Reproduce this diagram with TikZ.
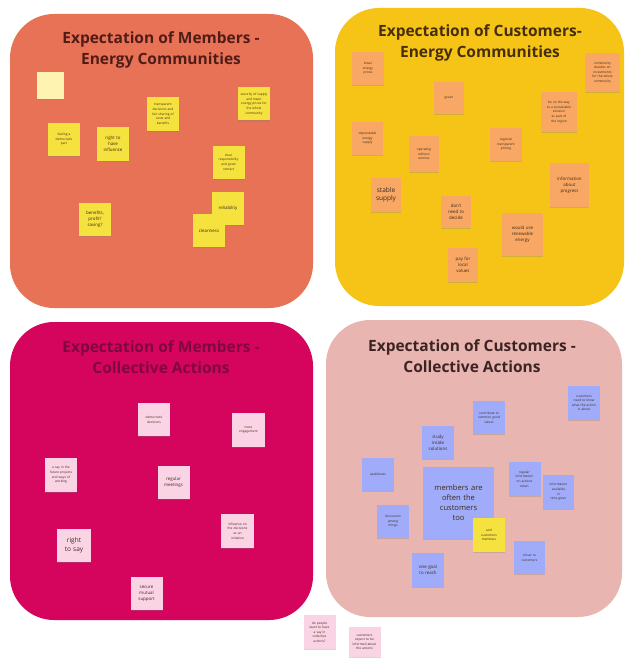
\documentclass[tikz,border=0pt]{standalone}
\usepackage{fontspec}
\setmainfont{Open Sans}
\usetikzlibrary{shadows}

% board colours
\definecolor{boardA}{RGB}{232,114,86}
\definecolor{boardB}{RGB}{246,196,22}
\definecolor{boardC}{RGB}{213,4,92}
\definecolor{boardD}{RGB}{233,181,176}
\definecolor{titleA}{RGB}{80,28,24}
\definecolor{titleB}{RGB}{70,46,10}
\definecolor{titleC}{RGB}{128,6,64}
\definecolor{titleD}{RGB}{60,36,36}
% sticky note colours
\definecolor{noteYellow}{RGB}{246,226,62}
\definecolor{notePale}{RGB}{255,243,178}
\definecolor{noteOrange}{RGB}{248,168,100}
\definecolor{notePink}{RGB}{250,212,228}
\definecolor{noteBlue}{RGB}{160,172,250}
\definecolor{noteText}{RGB}{60,42,30}

\tikzset{
  board/.style={rounded corners=44pt, draw=none},
  boardtitle/.style={font=\fontsize{15.5}{21}\selectfont\bfseries, align=center},
  sticky/.style={minimum width=32pt, minimum height=33pt, inner sep=1pt,
    align=center, text width=28pt, text=noteText,
    font=\fontsize{3.2}{4.6}\selectfont,
    drop shadow={opacity=0.3, shadow xshift=0pt, shadow yshift=-1.2pt}},
  yellownote/.style={sticky, fill=noteYellow},
  orangenote/.style={sticky, fill=noteOrange},
  pinknote/.style={sticky, fill=notePink},
  bluenote/.style={sticky, fill=noteBlue},
  midtext/.style={font=\fontsize{4.4}{6}\selectfont},
  bigtext/.style={font=\fontsize{6.5}{8.5}\selectfont}
}

\begin{document}
\begin{tikzpicture}[x=1pt, y=-1pt]
\path[use as bounding box, fill=white] (0,0) rectangle (626,658);

% ---- boards ----
\fill[board, boardA] (10,14) rectangle (313,308);
\fill[board, boardB] (335,8) rectangle (624,306);
\fill[board, boardC] (10,322) rectangle (313,620);
\fill[board, boardD] (326,320) rectangle (622,617);

\node[boardtitle, text=titleA] (tA) at (161,50) {Expectation of Members -\\Energy Communities};
\node[boardtitle, text=titleB] (tB) at (480,43) {Expectation of Customers-\\Energy Communities};
\node[boardtitle, text=titleC] (tC) at (161,357) {Expectation of Members -\\Collective Actions};
\node[boardtitle, text=titleD] (tD) at (472,356) {Expectation of Customers -\\Collective Actions};

% ---- members, energy communities ----
\node[sticky, fill=notePale, minimum width=27pt, minimum height=27pt, text width=23pt] (a0) at (50.5,85.5) {};
\node[yellownote] (a1) at (64,139.5) {feeling a\\democratic\\part};
\node[yellownote, midtext] (a2) at (113,144) {right to\\have\\influence};
\node[yellownote] (a3) at (163,114) {transparent\\decisions and\\fair sharing of\\costs and\\benefits};
\node[yellownote] (a4) at (254,104) {security of supply\\and lower\\energy prices for\\the whole\\community};
\node[yellownote] (a5) at (228.5,162) {clear\\responsibility\\and good\\contact};
\node[yellownote, midtext] (a6) at (95,219.5) {benefits,\\profit?\\saving?};
\node[yellownote, midtext] (a7) at (228,208) {reliability};
\node[yellownote, midtext] (a8) at (209,230.5) {cleanness};

% ---- customers, energy communities ----
\node[orangenote] (b1) at (368,68.5) {lower\\energy\\prices};
\node[orangenote, minimum width=30pt, minimum height=32pt] (b2) at (449,98) {green};
\node[orangenote, minimum width=35pt, minimum height=39pt, text width=31pt] (b3) at (602.5,72.5) {community\\decides on\\investments\\for the whole\\community};
\node[orangenote, minimum width=36pt, minimum height=40pt, text width=32pt] (b4) at (559,112) {be on the way\\to a sustainable\\solution\\as part of\\the region};
\node[orangenote, minimum width=31pt] (b5) at (367.5,138.5) {dependable\\energy\\supply};
\node[orangenote, minimum width=30pt, minimum height=36pt] (b6) at (424,154) {operating\\without\\worries};
\node[orangenote] (b7) at (506,144.5) {regional\\transparent\\pricing};
\node[orangenote, minimum width=30pt, minimum height=34pt, bigtext] (b8) at (386,195) {stable\\supply};
\node[orangenote, minimum width=30pt, minimum height=32pt, midtext] (b9) at (456,212) {don't\\need to\\decide};
\node[orangenote, minimum width=39pt, minimum height=44pt, text width=35pt, midtext] (b10) at (569.5,185) {information\\about\\progress};
\node[orangenote, minimum width=41pt, minimum height=43pt, text width=37pt, midtext] (b11) at (522.5,234.5) {would use\\renewable\\energy};
\node[orangenote, minimum width=30pt, minimum height=34pt, midtext] (b12) at (463,265) {pay for\\local\\values};

% ---- members, collective actions ----
\node[pinknote] (c1) at (154,419.5) {democratic\\decisions};
\node[pinknote, minimum width=33pt, minimum height=34pt] (c2) at (248.5,430) {more\\engagement};
\node[pinknote, minimum height=34pt] (c3) at (61,475) {a say in the\\future projects\\and ways of\\working};
\node[pinknote, midtext] (c4) at (173.5,482.5) {regular\\meetings};
\node[pinknote, minimum width=34pt, bigtext] (c5) at (74,545.5) {right\\to say};
\node[pinknote, minimum width=33pt, minimum height=34pt] (c6) at (237.5,531) {influence on\\the decisions\\as an\\initiative};
\node[pinknote, midtext] (c7) at (146.5,593.5) {secure\\mutual\\support};

% loose notes below the boards
\node[pinknote, minimum height=34pt] (e1) at (319.5,632) {do people\\want to have\\a say in\\collective\\actions?};
\node[pinknote, minimum height=30pt] (e2) at (364.5,642) {customers\\expect to be\\informed about\\the actions};

% ---- customers, collective actions ----
\node[bluenote, minimum height=34pt] (d1) at (584,403) {customers\\need to know\\what the action\\is about};
\node[bluenote] (d2) at (489,417.5) {contribute to\\common good\\values};
\node[bluenote, midtext] (d3) at (438,442.5) {study\\inside\\solutions};
\node[bluenote] (d4) at (378,474.5) {usefulness};
\node[bluenote, minimum width=71pt, minimum height=72pt, text width=66pt, font=\fontsize{7.6}{10}\selectfont] (d5) at (458.5,503) {members are\\often the\\customers\\too};
\node[bluenote, minimum height=34pt] (d6) at (524.5,479) {regular\\information\\on actions\\taken};
\node[bluenote, minimum width=31pt, minimum height=34pt] (d7) at (558.5,492) {information\\available\\in\\time given};
\node[bluenote] (d8) at (393,521.5) {discussion\\among\\things};
\node[yellownote, minimum height=34pt] (d9) at (489,535) {and\\customers\\members};
\node[bluenote, minimum width=31pt] (d10) at (529.5,557.5) {closer to\\customers};
\node[bluenote, minimum height=34pt, midtext] (d11) at (428,570) {one goal\\to reach};

\end{tikzpicture}
\end{document}
